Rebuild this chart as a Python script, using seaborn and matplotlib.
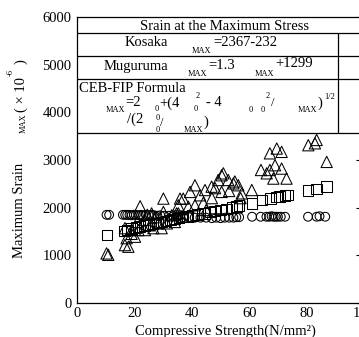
import matplotlib
matplotlib.use("Agg")
import matplotlib.pyplot as plt
import seaborn as sns
import pandas as pd
from matplotlib.patches import Rectangle

# ---------------- data ----------------
circ_x = [10.3, 11.2, 16.0, 16.8, 17.5, 18.3, 19.0, 19.8, 20.5, 21.5, 22.3, 23.0, 24.0,
          25.0, 26.0, 27.0, 28.0, 29.0, 30.5, 32.0, 33.5, 35.0, 37.0, 39.0, 41.0, 43.0,
          45.0, 47.0, 48.5, 50.0, 51.5, 53.0, 54.5, 55.5, 56.5, 61.0, 64.0, 66.0, 67.0,
          67.8, 68.5, 69.2, 70.0, 71.0, 72.5, 80.5, 83.5, 84.5, 86.5]
circ_y = [1850, 1850, 1850, 1850, 1850, 1850, 1840, 1850, 1850, 1840, 1850, 1840, 1850,
          1840, 1850, 1840, 1830, 1840, 1830, 1830, 1820, 1810, 1800, 1800, 1790, 1790,
          1790, 1780, 1790, 1780, 1790, 1790, 1790, 1800, 1800, 1810, 1810, 1810, 1810,
          1820, 1810, 1810, 1810, 1810, 1810, 1810, 1810, 1820, 1810]

sq_x = [10.5, 16.5, 17.5, 19.0, 20.5, 22.0, 23.5, 25.0, 26.5, 28.0, 29.5, 31.0, 32.5,
        34.0, 35.5, 37.0, 38.5, 40.0, 42.0, 44.5, 46.5, 48.0, 50.0, 52.0, 54.0, 55.5,
        56.5, 61.0, 64.5, 67.5, 69.5, 70.5, 72.5, 73.5, 80.5, 83.5, 87.0]
sq_y = [1430, 1510, 1530, 1560, 1580, 1600, 1620, 1640, 1660, 1680, 1700, 1720, 1740,
        1760, 1780, 1800, 1820, 1840, 1860, 1880, 1910, 1930, 1950, 1970, 2000, 2020,
        2040, 2090, 2160, 2190, 2220, 2230, 2250, 2270, 2360, 2390, 2440]

tri_x = [10.3, 10.9, 16.7, 17.9, 17.3, 20.2, 16.7, 19.1, 21.4, 23.7, 26.6, 29.5, 23.7,
         25.4, 28.3, 31.3, 34.1, 26.0, 30.1, 33.0, 35.3, 22.0, 30.1, 35.9, 34.7, 36.5,
         35.3, 38.8, 41.1, 37.0, 42.9, 50.4, 57.4, 39.4, 44.6, 48.1, 60.9, 41.1, 46.9,
         49.2, 52.7, 54.5, 56.2, 51.0, 50.4, 64.1, 67.2, 69.0, 71.3, 66.1, 68.4, 73.0,
         67.2, 69.6, 71.3, 80.6, 82.9, 83.5, 87.0, 44.0, 47.0, 53.0, 55.0, 57.0, 45.0,
         27.5, 24.5, 21.0, 19.0]
tri_y = [1040, 1010, 1215, 1180, 1360, 1390, 1570, 1530, 1530, 1530, 1570, 1570, 1740,
         1630, 1670, 1670, 1700, 1880, 1910, 1840, 1880, 2030, 2190, 2190, 1880, 1810,
         2050, 2020, 2050, 2190, 2260, 2330, 2300, 2330, 2370, 2410, 2370, 2470, 2440,
         2580, 2580, 2510, 2470, 2720, 2680, 2790, 2790, 2890, 2820, 2720, 2610, 2610,
         3140, 3240, 3170, 3310, 3350, 3420, 2960, 2100, 2200, 2350, 2550, 2200, 1950,
         1800, 1850, 1700, 1450]

x_ticks = [0, 20, 40, 60, 80, 100]
y_ticks = [0, 1000, 2000, 3000, 4000, 5000, 6000]

# ---------------- figure ----------------
sns.set_theme(style="white")
plt.rcParams["font.family"] = ["Liberation Serif", "DejaVu Sans"]

W, H = 359, 337
fig = plt.figure(figsize=(W / 100, H / 100), dpi=100)
fig.patch.set_facecolor("white")
ax = fig.add_axes([77 / W, 1 - 303 / H, 287 / W, 286 / H])
ax.set_facecolor("white")

df_c = pd.DataFrame({"x": circ_x, "y": circ_y})
df_s = pd.DataFrame({"x": sq_x, "y": sq_y})
df_t = pd.DataFrame({"x": tri_x, "y": tri_y})

for d, m, s in [(df_c, "o", 40), (df_s, "s", 58), (df_t, "^", 66)]:
    sns.scatterplot(data=d, x="x", y="y", marker=m, s=s, ax=ax, legend=False,
                    color="black", linewidth=0.75, zorder=3)
for coll in ax.collections:
    coll.set_facecolor("none")
    coll.set_edgecolor("black")

ax.set_xlim(0, 100)
ax.set_ylim(0, 6000)
ax.set_xticks(x_ticks)
ax.set_yticks(y_ticks)
ax.set_xticklabels([str(v) for v in x_ticks])
ax.set_yticklabels([str(v) for v in y_ticks])
ax.tick_params(axis="both", direction="in", length=6, width=0.8, colors="black",
               labelsize=10.5, labelcolor="black")
ax.tick_params(axis="x", pad=3)
ax.tick_params(axis="y", pad=4, right=True)
ax.set_xlabel("")
ax.set_ylabel("")
for sp in ax.spines.values():
    sp.set_color("black")
    sp.set_linewidth(0.9)
    sp.set_zorder(6)

# table box (covers tick marks in that region)
ax.add_patch(Rectangle((0, 3560), 100, 2440, facecolor="white", edgecolor="none",
                       zorder=4))
for yy in [5660, 5180, 4700, 3560]:
    ax.axhline(yy, color="black", lw=0.9, zorder=5)
ax.vlines(91, 3560, 5660, color="black", lw=0.9, zorder=5)


def T(x, y, s, size=10.5, **kw):
    kw.setdefault("ha", "left")
    kw.setdefault("va", "baseline")
    fig.text(x / W, 1 - y / H, s, fontsize=size, color="black", **kw)


SUB = 6.0
# header
T(225, 29.5, "Srain at the Maximum Stress", ha="center")
# Kosaka
T(125, 46.5, "Kosaka")
T(192, 53, "MAX", size=SUB)
T(213, 46, "=2367-232")
# Muguruma
T(104, 70, "Muguruma")
T(188, 76, "MAX", size=SUB)
T(208, 69, "=1.3")
T(255, 76, "MAX", size=SUB)
T(275, 67, "+1299")
# CEB-FIP
T(79, 92.5, "CEB-FIP Formula")
T(106, 112.5, "MAX", size=SUB)
T(125, 106.5, "=2")
T(155, 111, "0", size=SUB)
T(159, 106.5, "+(4")
T(194, 111, "0", size=SUB)
T(196, 98, "2", size=SUB)
T(206, 106.5, "- 4")
T(249, 112, "0", size=SUB)
T(261, 112, "0", size=SUB)
T(266, 98, "2", size=SUB)
T(271, 106, "/", size=9)
T(298, 112.5, "MAX", size=SUB)
T(318, 106.5, ")")
T(324, 99, "1/2", size=SUB)
# line 3
T(127, 123, "/(2")
T(156, 119.5, "0", size=SUB)
T(160, 126, "/", size=9)
T(156, 132, "0", size=SUB)
T(184, 132, "MAX", size=SUB)
T(204, 126, ")")

# axis labels
T(225, 335, "Compressive Strength(N/mm\u00b2)", ha="center", va="baseline")
fig.text(20 / W, 1 - 210 / H, "Maximum Srain", fontsize=10.5, rotation=90,
         ha="center", va="center", color="black")
fig.text(23.5 / W, 1 - 123 / H, "MAX", fontsize=SUB, rotation=90,
         ha="center", va="center", color="black")
fig.text(21 / W, 1 - 94 / H, "( \u00d7 10", fontsize=10.5, rotation=90,
         ha="center", va="center", color="black")
fig.text(11 / W, 1 - 73 / H, "-6", fontsize=SUB, rotation=90,
         ha="center", va="center", color="black")
fig.text(21 / W, 1 - 62 / H, ")", fontsize=10.5, rotation=90,
         ha="center", va="center", color="black")

fig.savefig("out.png", dpi=100, facecolor="white")
